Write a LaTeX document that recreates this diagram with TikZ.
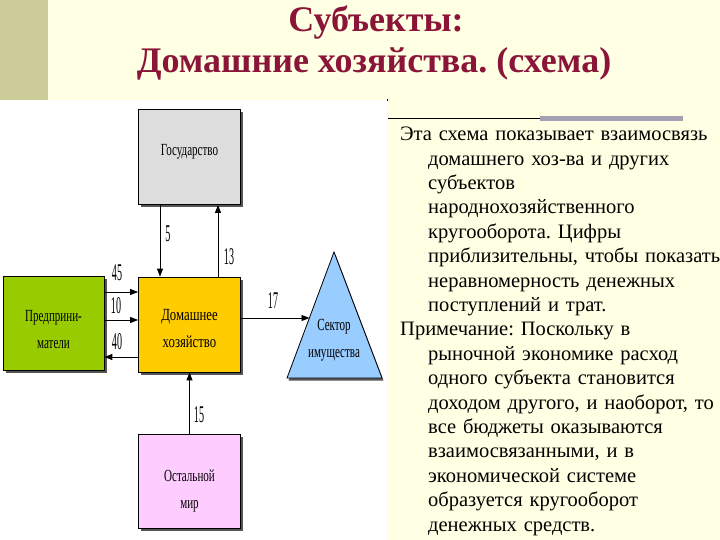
\documentclass[tikz,border=0pt]{standalone}
\usepackage{fontspec}
\setmainfont{Liberation Serif}
\usetikzlibrary{arrows.meta,shadows,calc}
\definecolor{cream}{HTML}{FFFFE3}
\definecolor{olivestrip}{HTML}{CCCC99}
\definecolor{titlered}{HTML}{8B1538}
\definecolor{govgray}{HTML}{DDDDDD}
\definecolor{hhyellow}{HTML}{FFCC00}
\definecolor{entgreen}{HTML}{99CC00}
\definecolor{restpink}{HTML}{FFCCFF}
\definecolor{triblue}{HTML}{99CCFF}
\definecolor{bargray}{HTML}{A3A0B4}
\definecolor{shadowc}{HTML}{555555}
\newcommand\sqz[2][0.65]{\scalebox{#1}[1]{\begin{tabular}{@{}c@{}}#2\end{tabular}}}
\newcommand\numz[1]{\scalebox{0.42}[1]{#1}}
\newcommand\nl{\unskip\break}
\tikzset{
  box/.style={draw=black, line width=0.8pt, minimum width=102pt, minimum height=95pt,
    inner sep=0pt,
    drop shadow={shadow xshift=2.5pt, shadow yshift=-2.5pt, opacity=1, fill=shadowc}},
  boxtext/.style={font=\fontsize{17}{27}\selectfont, inner sep=0pt},
  flow/.style={line width=0.9pt, -{Triangle[length=8pt,width=6pt]}},
  num/.style={font=\fontsize{24}{24}\selectfont, inner sep=0pt},
  ttl/.style={text=titlered, font=\fontsize{36}{36}\selectfont\bfseries, anchor=base, inner sep=0pt}
}
\begin{document}
\frenchspacing
\begin{tikzpicture}[x=1pt,y=-1pt]
\useasboundingbox (0,0) rectangle (720,540);
\fill[cream] (0,0) rectangle (720,540);
\fill[olivestrip] (0,0) rectangle (48,100);
\fill[white] (0,100) rectangle (387,540);
\fill[black] (386.5,99.5) rectangle (388,101);

\node[ttl] (t1) at (376,32) {Субъекты:};
\node[ttl] (t2) at (374,73) {Домашние хозяйства. (схема)};

\draw[black, line width=1.4pt] (388,118.5) -- (540,118.5);
\fill[bargray] (540,116) rectangle (683,121);

\node[anchor=north west, text width=400pt, inner sep=0pt, align=left,
  font=\fontsize{20.5}{24.4}\selectfont] (note) at (400,127) {%
\parindent=0pt
\hangindent=28pt \hangafter=1
Эта схема показывает взаимосвязь\nl
домашнего хоз-ва и других\nl
субъектов\nl
народнохозяйственного\nl
кругооборота. Цифры\nl
приблизительны, чтобы показать\nl
неравномерность денежных\nl
поступлений и трат.\par
\hangindent=28pt \hangafter=1
Примечание: Поскольку в\nl
рыночной экономике расход\nl
одного субъекта становится\nl
доходом другого, и наоборот, то\nl
все бюджеты оказываются\nl
взаимосвязанными, и в\nl
экономической системе\nl
образуется кругооборот\nl
денежных средств.\par};

% boxes
\node[box, fill=govgray] (gov) at (189.5,157) {};
\node[box, fill=hhyellow] (hh) at (189.5,324.5) {};
\node[box, fill=entgreen, minimum width=101pt, minimum height=94pt] (ent) at (53.5,323.5) {};
\node[box, fill=restpink, minimum height=94pt] (rest) at (189.5,481.5) {};

\node[boxtext] (govt) at ([yshift=7pt]gov.center) {\sqz{Государство}};
\node[boxtext] (hht) at ([yshift=-4pt]hh.center) {\sqz[0.75]{Домашнее\\хозяйство}};
\node[boxtext] (entt) at ([yshift=-6pt]ent.center) {\sqz{Предприни-\\матели}};
\node[boxtext] (restt) at ([yshift=-8pt]rest.center) {\sqz{Остальной\\мир}};

% triangle
\path[draw=black, line width=0.8pt, fill=triblue,
  drop shadow={shadow xshift=1.5pt, shadow yshift=-2.5pt, opacity=1, fill=shadowc}]
  (334,252) coordinate (apex) -- (382,378) -- (287,378) -- cycle;
\node[boxtext] (trit) at (334,339) {\sqz{Сектор\\имущества}};
\coordinate (tri17) at (309.5,318);

% flows
\draw[flow] ([xshift=-29.5pt]gov.south) -- ([xshift=-29.5pt]hh.north);
\draw[flow] ([xshift=28.5pt]hh.north) -- ([xshift=28.5pt]gov.south);
\draw[flow] ([yshift=31.5pt]ent.east) -- ([yshift=31.5pt]ent.east -| hh.west);
\draw[flow] ([yshift=3.5pt]ent.east) -- ([yshift=3.5pt]ent.east -| hh.west);
\draw[flow] ([yshift=-33.5pt]ent.east -| hh.west) -- ([yshift=-33.5pt]ent.east);
\draw[flow] (hh.east |- tri17) -- (tri17);
\draw[flow] (rest.north) -- (hh.south);

% numbers
\node[num] (n5) at (168,234) {\numz{5}};
\node[num] (n13) at (229,257) {\numz{13}};
\node[num] (n45) at (117,273) {\numz{45}};
\node[num] (n10) at (116,306) {\numz{10}};
\node[num] (n40) at (117,342) {\numz{40}};
\node[num] (n17) at (273,301) {\numz{17}};
\node[num] (n15) at (199,415) {\numz{15}};
\end{tikzpicture}
\end{document}
